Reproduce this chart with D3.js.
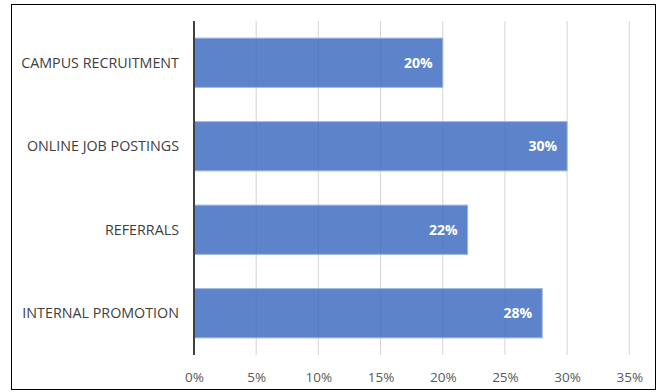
<!DOCTYPE html>
<html>
<head>
<meta charset="utf-8">
<script src="https://cdn.jsdelivr.net/npm/d3@7"></script>
<style>
  body { margin: 0; background: #fff; }
  svg { display: block; font-family: "Open Sans", "Liberation Sans", sans-serif; }
</style>
</head>
<body>
<div id="chart"></div>
<script>
const categories = ["CAMPUS RECRUITMENT", "ONLINE JOB POSTINGS", "REFERRALS", "INTERNAL PROMOTION"];
const values = [20, 30, 22, 28];
const tickValues = [0, 5, 10, 15, 20, 25, 30, 35];

const width = 661;
const height = 392;
const margin = { top: 21, right: 32, bottom: 37, left: 194 };

const svg = d3.select("#chart")
    .append("svg")
    .attr("width", width)
    .attr("height", height);

// рамка
svg.append("rect")
    .attr("x", 11.5).attr("y", 4.5)
    .attr("width", 644).attr("height", 385)
    .attr("fill", "none")
    .attr("stroke", "#000")
    .attr("stroke-width", 1);

const x = d3.scaleLinear()
    .domain([0, 35])
    .range([margin.left, 629.3]);

const y = d3.scaleBand()
    .domain(categories)
    .range([margin.top, height - margin.bottom])
    .paddingInner(0.41)
    .paddingOuter(0.205);

// сетка
svg.append("g")
    .selectAll("line")
    .data(tickValues.slice(1))
    .enter()
    .append("line")
    .attr("x1", d => x(d)).attr("x2", d => x(d))
    .attr("y1", margin.top).attr("y2", height - margin.bottom)
    .attr("stroke", "#d4d4d4")
    .attr("stroke-width", 1);

// столбцы
svg.append("g")
    .selectAll("rect")
    .data(values)
    .enter()
    .append("rect")
    .attr("x", x(0))
    .attr("y", (d, i) => y(categories[i]))
    .attr("width", d => x(d) - x(0))
    .attr("height", y.bandwidth())
    .attr("fill", "rgba(62,109,193,0.84)")
    .attr("stroke", "#9db5e0")
    .attr("stroke-width", 1);

// подписи значений
svg.append("g")
    .selectAll("text")
    .data(values)
    .enter()
    .append("text")
    .attr("x", d => x(d) - 10)
    .attr("y", (d, i) => y(categories[i]) + y.bandwidth() / 2)
    .attr("dy", "0.35em")
    .attr("text-anchor", "end")
    .attr("fill", "#fff")
    .style("font-size", "14px")
    .style("font-weight", "bold")
    .text(d => d + "%");

// ось категорий
svg.append("g")
    .selectAll("text")
    .data(categories)
    .enter()
    .append("text")
    .attr("x", 179)
    .attr("y", d => y(d) + y.bandwidth() / 2)
    .attr("dy", "0.35em")
    .attr("text-anchor", "end")
    .attr("fill", "#404040")
    .style("font-size", "14.3px")
    .text(d => d);

svg.append("line")
    .attr("x1", x(0)).attr("x2", x(0))
    .attr("y1", margin.top).attr("y2", height - margin.bottom)
    .attr("stroke", "#404040")
    .attr("stroke-width", 2);

// ось значений
const xAxis = svg.append("g")
    .attr("transform", `translate(0,${377})`)
    .call(d3.axisBottom(x).tickValues(tickValues).tickFormat(d => d + "%").tickSize(0));
xAxis.select(".domain").remove();
xAxis.selectAll("text")
    .attr("y", 0)
    .attr("dy", "0.35em")
    .attr("fill", "#595959")
    .style("font-family", "\"Open Sans\", sans-serif")
    .style("font-size", "13.5px");
</script>
</body>
</html>
